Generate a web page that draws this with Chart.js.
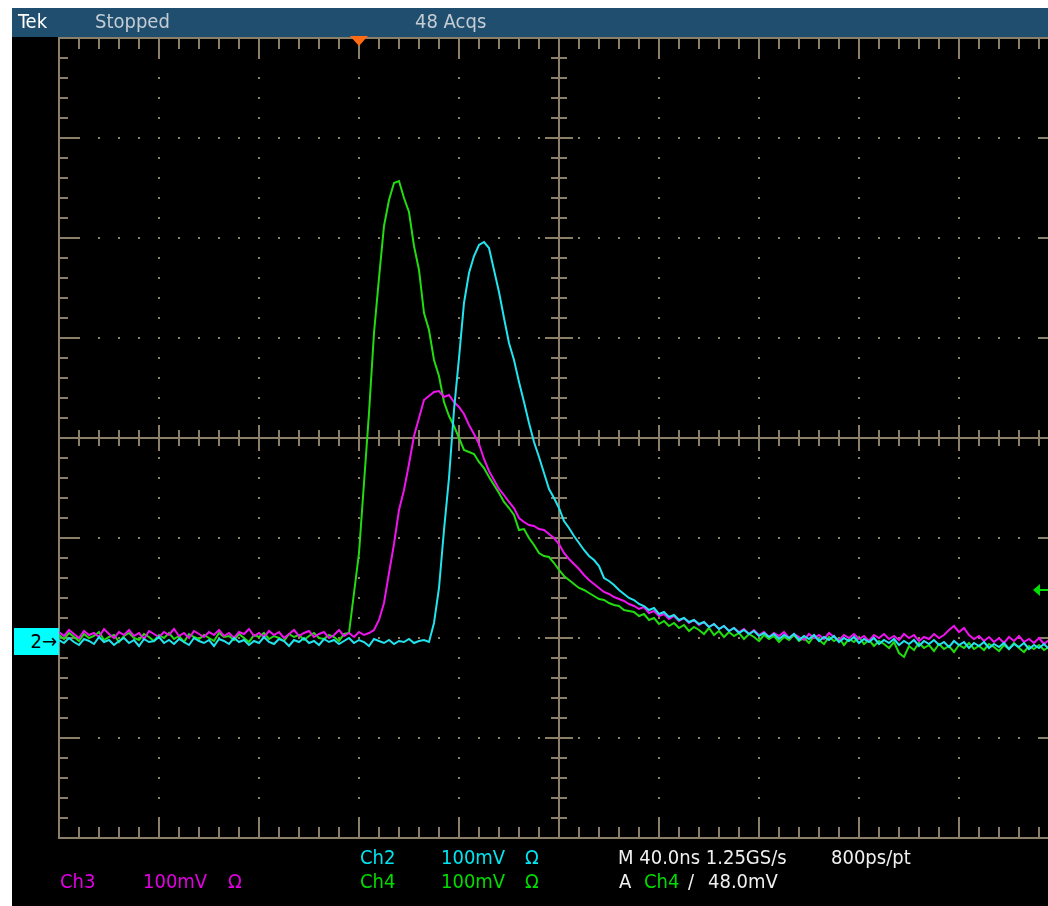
<!DOCTYPE html>
<html><head><meta charset="utf-8">
<script src="https://cdn.jsdelivr.net/npm/chart.js@4.4.1/dist/chart.umd.min.js"></script>
<style>
html,body{margin:0;padding:0;background:#fff;width:1048px;height:906px;overflow:hidden;position:relative;}
#screen{position:absolute;left:12px;top:8px;width:1036px;height:898px;background:#000;}
#hdr{position:absolute;left:12px;top:8px;width:1036px;height:29px;background:#1f4e6e;}
canvas{position:absolute;left:0;top:0;}
.t{position:absolute;font-family:"DejaVu Sans Condensed","DejaVu Sans",sans-serif;font-stretch:condensed;font-size:20px;line-height:20px;white-space:nowrap;}
#gnd2{position:absolute;left:14px;width:45px;height:27px;background:#00ffff;color:#000;font-family:"DejaVu Sans Condensed","DejaVu Sans",sans-serif;font-stretch:condensed;font-size:20px;line-height:27px;text-align:right;box-sizing:border-box;padding-right:2px;}
</style>
</head><body>
<div id="screen"></div>
<div id="hdr"></div>
<canvas id="c" width="1072" height="906"></canvas>
<div class="t" style="left:18px;top:11px;color:#ffffff">Tek</div>
<div class="t" style="left:95px;top:11px;color:#c4ccd4">Stopped</div>
<div class="t" style="left:415px;top:11px;color:#c4ccd4">48 Acqs</div>

<div class="t" style="left:360px;top:847px;color:#00e6f0">Ch2</div>
<div class="t" style="left:441px;top:847px;color:#00e6f0">100mV</div>
<div class="t" style="left:525px;top:847px;color:#00e6f0">Ω</div>
<div class="t" style="left:618px;top:847px;color:#f0f0f0">M 40.0ns 1.25GS/s</div>
<div class="t" style="left:831px;top:847px;color:#f0f0f0">800ps/pt</div>

<div class="t" style="left:60px;top:871px;color:#e000e0">Ch3</div>
<div class="t" style="left:143px;top:871px;color:#e000e0">100mV</div>
<div class="t" style="left:228px;top:871px;color:#e000e0">Ω</div>
<div class="t" style="left:360px;top:871px;color:#00dc00">Ch4</div>
<div class="t" style="left:441px;top:871px;color:#00dc00">100mV</div>
<div class="t" style="left:525px;top:871px;color:#00dc00">Ω</div>
<div class="t" style="left:619px;top:871px;color:#f0f0f0">A</div>
<div class="t" style="left:644px;top:871px;color:#00dc00">Ch4</div>
<div class="t" style="left:688px;top:871px;color:#f0f0f0">/</div>
<div class="t" style="left:708px;top:871px;color:#f0f0f0">48.0mV</div>

<div id="gnd2">2&#8594;</div>

<script>
// ---- time base (ns) ----
const sampleStartNs = -120;
const sampleStepNs = 2;
const xMinNs = -120, xMaxNs = 280, nsPerDiv = 40;
const yMinMv = -400, yMaxMv = 400, mvPerDiv = 100;
const triggerTimeNs = 0;
const triggerLevelMv = -152;   // Ch4 trigger level on screen
const ch2GroundMv = -203;      // Ch2 ground marker on screen

// ---- Ch2 (cyan) screen mV ----
const ch2 = [
-202,-205,-200,-204,-207,-201,-203,-206,-199,-204,
-202,-207,-203,-200,-205,-202,-208,-201,-204,-203,
-199,-205,-202,-206,-201,-204,-207,-200,-203,-205,
-202,-208,-201,-203,-206,-200,-204,-202,-207,-203,
-205,-199,-204,-206,-201,-203,-208,-202,-204,-200,
-205,-203,-207,-201,-204,-202,-206,-203,-200,-205,
-202,-204,-208,-201,-203,-205,-202,-206,-203,-204,
-201,-205,-203,-202,
-204,-185,-150,-92,-40,28,80,135,165,182,
193,196,190,168,146,120,95,78,56,36,
15,-4,-19,-35,-51,-60,-70,-83,-90,-98,
-105,-112,-118,-122,-128,-140,-143,-147,-152,-156,
-160,
-162,-166,-168,-172,-170,-176,-174,-179,-177,-182,
-180,-184,-182,-186,-184,-189,-186,-191,-188,-193,
-190,-195,-192,-196,-193,-198,-195,-199,-196,-201,
-197,-200,-196,-202,-198,-201,-197,-203,-199,-202,
-198,-204,-200,-203,-199,-205,-201,-204,-200,-206,
-202,-205,-201,-207,-203,-206,-202,-208,-203,-206,
-202,-207,-204,-209,-203,-207,-204,-210,-205,-208,
-204,-210,-206,-209,-205,-211,-206,-209,-205,-211,
-207,-210,-206,-211,-207,-209
];

// ---- Ch3 (magenta) screen mV ----
const ch3 = [
-194,-198,-192,-196,-200,-193,-197,-195,-199,-191,
-196,-200,-194,-197,-192,-198,-195,-201,-193,-196,
-199,-194,-197,-191,-198,-195,-200,-193,-196,-199,
-194,-197,-192,-198,-195,-200,-194,-196,-191,-198,
-195,-199,-193,-197,-194,-200,-196,-192,-198,-195,
-193,-199,-196,-194,-200,-197,-192,-198,-195,-199,
-194,-197,-195,
-192,-182,-165,-135,-106,-72,-52,-26,2,20,
38,42,46,47,41,43,36,31,24,13,
4,-6,-21,-33,-42,-51,-57,-64,-70,-80,
-84,-87,-88,-91,-92,-96,-100,-106,-115,-121,
-126,-131,-137,-142,-146,-150,-154,-156,-159,-161,
-163,-166,
-168,-171,-169,-175,-173,-178,-176,-181,-178,-183,
-180,-185,-182,-187,-184,-189,-186,-191,-188,-193,
-190,-194,-191,-196,-192,-197,-194,-199,-195,-198,
-194,-200,-196,-199,-202,-196,-200,-197,-201,-195,
-199,-202,-197,-200,-196,-201,-198,-203,-197,-200,
-196,-201,-198,-202,-196,-200,-197,-203,-199,-201,
-196,-200,-197,-192,-188,-194,-190,-197,-201,-198,
-203,-199,-204,-200,-205,-199,-203,-198,-204,-201,
-205,-200,-206,-202,-205,-203
];

// ---- Ch4 (green) screen mV ----
const ch4 = [
-197,-201,-195,-199,-203,-196,-200,-198,-194,-202,
-199,-197,-204,-198,-195,-200,-202,-196,-199,-203,
-197,-200,-195,-201,-198,-204,-196,-199,-201,-197,
-200,-203,-195,-199,-198,-202,-196,-200,-204,-197,
-199,-195,-201,-198,-200,-203,-196,-199,-197,-202,
-198,-195,-200,-201,-197,-199,-203,-196,
-195,-155,-115,-45,25,105,160,212,238,255,
257,240,226,192,168,125,108,78,62,36,
22,12,0,-12,-14,-16,-24,-30,-39,-47,
-55,-64,-70,-77,-92,-91,-100,-107,-115,-118,
-119,-125,-132,-138,-142,-146,-150,-152,-155,-158,
-161,-162,-165,-167,-168,-172,-173,
-174,-178,-176,-182,-180,-186,-183,-188,-185,-190,
-187,-193,-189,-192,-196,-190,-197,-193,-199,-194,
-198,-195,-201,-196,-199,-203,-197,-201,-198,-204,
-199,-202,-197,-203,-200,-205,-198,-202,-206,-199,
-203,-200,-207,-201,-204,-199,-206,-202,-208,-203,
-206,-210,-204,-215,-219,-208,-212,-205,-210,-207,
-213,-206,-211,-208,-214,-207,-210,-205,-211,-208,
-212,-206,-209,-213,-207,-211,-205,-210,-214,-208,
-211,-207,-212,-209,-211,-208
];

const frameColor = '#8c7f68';
const toXY = arr => arr.map((v, i) => ({x: sampleStartNs + i * sampleStepNs, y: v}));

const graticule = {
  id: 'graticule',
  beforeDatasetsDraw(chart) {
    const {ctx, chartArea: {left, right, top, bottom}, scales: {x, y}} = chart;
    ctx.save();
    ctx.fillStyle = frameColor;
    ctx.strokeStyle = frameColor;
    ctx.lineWidth = 2;
    const minorX = nsPerDiv / 5, minorY = mvPerDiv / 5;
    const cx = (xMinNs + xMaxNs) / 2, cy = (yMinMv + yMaxMv) / 2;
    for (let t = xMinNs + nsPerDiv; t < xMaxNs; t += nsPerDiv) {
      if (t === cx) continue;
      const px = Math.round(x.getPixelForValue(t));
      for (let v = yMinMv + minorY; v < yMaxMv; v += minorY) {
        ctx.fillRect(px - 1, Math.round(y.getPixelForValue(v)) - 1, 2, 2);
      }
    }
    for (let v = yMinMv + mvPerDiv; v < yMaxMv; v += mvPerDiv) {
      if (v === cy) continue;
      const py = Math.round(y.getPixelForValue(v));
      for (let t = xMinNs + minorX; t < xMaxNs; t += minorX) {
        ctx.fillRect(Math.round(x.getPixelForValue(t)) - 1, py - 1, 2, 2);
      }
    }
    ctx.beginPath();
    ctx.moveTo(left, top); ctx.lineTo(right, top);
    ctx.moveTo(left, bottom); ctx.lineTo(right, bottom);
    ctx.moveTo(left, top - 1); ctx.lineTo(left, bottom + 1);
    ctx.moveTo(right, top - 1); ctx.lineTo(right, bottom + 1);
    for (let t = xMinNs; t <= xMaxNs; t += minorX) {
      const px = Math.round(x.getPixelForValue(t));
      const major = (t - xMinNs) % nsPerDiv === 0;
      const len = major ? 21 : 11;
      ctx.moveTo(px, top); ctx.lineTo(px, top + len);
      ctx.moveTo(px, bottom); ctx.lineTo(px, bottom - len);
    }
    for (let v = yMinMv; v <= yMaxMv; v += minorY) {
      const py = Math.round(y.getPixelForValue(v));
      const major = (v - yMinMv) % mvPerDiv === 0;
      const len = major ? 21 : 9;
      ctx.moveTo(left, py); ctx.lineTo(left + len, py);
      ctx.moveTo(right, py); ctx.lineTo(right - len, py);
    }
    const pcx = Math.round(x.getPixelForValue(cx));
    const pcy = Math.round(y.getPixelForValue(cy));
    ctx.moveTo(left, pcy); ctx.lineTo(right, pcy);
    ctx.moveTo(pcx, top); ctx.lineTo(pcx, bottom);
    for (let t = xMinNs + minorX; t < xMaxNs; t += minorX) {
      const px = Math.round(x.getPixelForValue(t));
      const major = (t - xMinNs) % nsPerDiv === 0;
      const h = major ? 13 : 8;
      ctx.moveTo(px, pcy - h); ctx.lineTo(px, pcy + h);
    }
    for (let v = yMinMv + minorY; v < yMaxMv; v += minorY) {
      const py = Math.round(y.getPixelForValue(v));
      const major = (v - yMinMv) % mvPerDiv === 0;
      const h = major ? 14 : 8;
      ctx.moveTo(pcx - h, py); ctx.lineTo(pcx + h, py);
    }
    ctx.stroke();
    ctx.restore();
  },
  afterDraw(chart) {
    const {ctx, chartArea: {top}, scales: {x, y}} = chart;
    const px = x.getPixelForValue(triggerTimeNs);
    ctx.save();
    // trigger position marker
    ctx.fillStyle = '#ff6a13';
    ctx.beginPath();
    ctx.moveTo(px - 9, top - 2);
    ctx.lineTo(px + 9, top - 2);
    ctx.lineTo(px, top + 8);
    ctx.closePath();
    ctx.fill();
    // trigger level marker (right edge)
    const ty = Math.round(y.getPixelForValue(triggerLevelMv));
    ctx.fillStyle = '#00e000';
    ctx.strokeStyle = '#00e000';
    ctx.beginPath();
    ctx.moveTo(1033, ty);
    ctx.lineTo(1040, ty - 6);
    ctx.lineTo(1040, ty + 6);
    ctx.closePath();
    ctx.fill();
    ctx.lineWidth = 2;
    ctx.beginPath();
    ctx.moveTo(1038, ty); ctx.lineTo(1049, ty);
    ctx.stroke();
    ctx.restore();
  }
};

const chart = new Chart(document.getElementById('c'), {
  type: 'line',
  data: {
    datasets: [
      {label: 'Ch2', data: toXY(ch2), borderColor: '#22e4ee', order: 1},
      {label: 'Ch3', data: toXY(ch3), borderColor: '#ee14ee', order: 2},
      {label: 'Ch4', data: toXY(ch4), borderColor: '#22dc10', order: 3}
    ]
  },
  options: {
    responsive: false,
    animation: false,
    devicePixelRatio: 1,
    layout: {padding: {left: 59, right: 13, top: 38, bottom: 68}},
    elements: {
      point: {radius: 0},
      line: {borderWidth: 2, tension: 0}
    },
    scales: {
      x: {type: 'linear', min: xMinNs, max: xMaxNs, display: false},
      y: {type: 'linear', min: yMinMv, max: yMaxMv, display: false}
    },
    plugins: {legend: {display: false}, tooltip: {enabled: false}}
  },
  plugins: [graticule]
});

const gy = chart.scales.y.getPixelForValue(ch2GroundMv);
document.getElementById('gnd2').style.top = Math.round(gy - 13) + 'px';
</script>
</body></html>
